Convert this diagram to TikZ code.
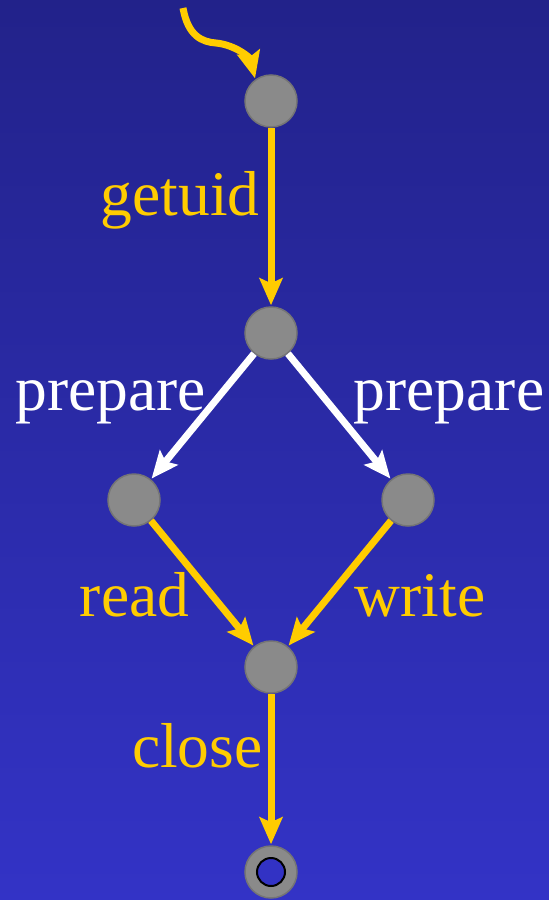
\documentclass[tikz,border=0pt]{standalone}
\usepackage{fontspec}
\setmainfont{Liberation Serif}
\usetikzlibrary{arrows.meta,positioning}
\definecolor{gold}{HTML}{FFCC00}
\definecolor{skytop}{HTML}{22228A}
\definecolor{skybot}{HTML}{3333C6}
\definecolor{dotgray}{HTML}{8A8A8A}
\definecolor{innerblue}{HTML}{3232C4}

\begin{document}
\begin{tikzpicture}[x=1pt,y=-1pt,>={Stealth[length=27pt,width=23pt,inset=5pt]},shorten >=1pt,on grid,
  dot/.style={circle,fill=dotgray,draw=dotgray!85!black,line width=1.5pt,minimum size=52pt,inner sep=0pt},
  lbl/.style={font=\fontsize{63.5}{63.5}\selectfont,inner sep=0pt},
  call/.style={->,line width=7pt,draw=gold},
  prep/.style={->,line width=7pt,draw=white}]

\shade[top color=skytop,bottom color=skybot] (0,0) rectangle (549,900);
\useasboundingbox (0,0) rectangle (549,900);

\node[dot] (q0) at (271,101) {};
\node[dot] (q1) [below=232pt of q0] {};
\node[dot] (q2) [below left=167pt and 137pt of q1] {};
\node[dot] (q3) [below right=167pt and 137pt of q1] {};
\node[dot] (q4) [below right=167pt and 137pt of q2] {};
\node[dot] (q5) [below=205pt of q4] {};
\node[circle,fill=innerblue,draw=black,line width=2pt,minimum size=28pt,inner sep=0pt] (q5in) at (q5) {};

% entry into the first state
\coordinate (in) at (183,8);
\draw[call] (in) .. controls (188,36) and (202,42) .. (216,43)
  .. controls (236,45) and (250,58) .. (q0.126);

\path (q0) edge[call] node[lbl,text=gold,anchor=base east,pos=0.49,xshift=-8pt] (lgetuid) {getuid} (q1)
      (q1) edge[prep] node[lbl,text=white,anchor=base east,pos=0.45,xshift=2pt] (lprepl) {prepare} (q2)
      (q1) edge[prep] node[lbl,text=white,anchor=base west,pos=0.45,xshift=16pt] (lprepr) {prepare} (q3)
      (q2) edge[call] node[lbl,text=gold,anchor=base east,pos=0.764,xshift=-37pt] (lread) {read} (q4)
      (q3) edge[call] node[lbl,text=gold,anchor=base west,pos=0.764,xshift=39pt] (lwrite) {write} (q4)
      (q4) edge[call] node[lbl,text=gold,anchor=base east,pos=0.484,xshift=-5pt] (lclose) {close} (q5);

\end{tikzpicture}
\end{document}
